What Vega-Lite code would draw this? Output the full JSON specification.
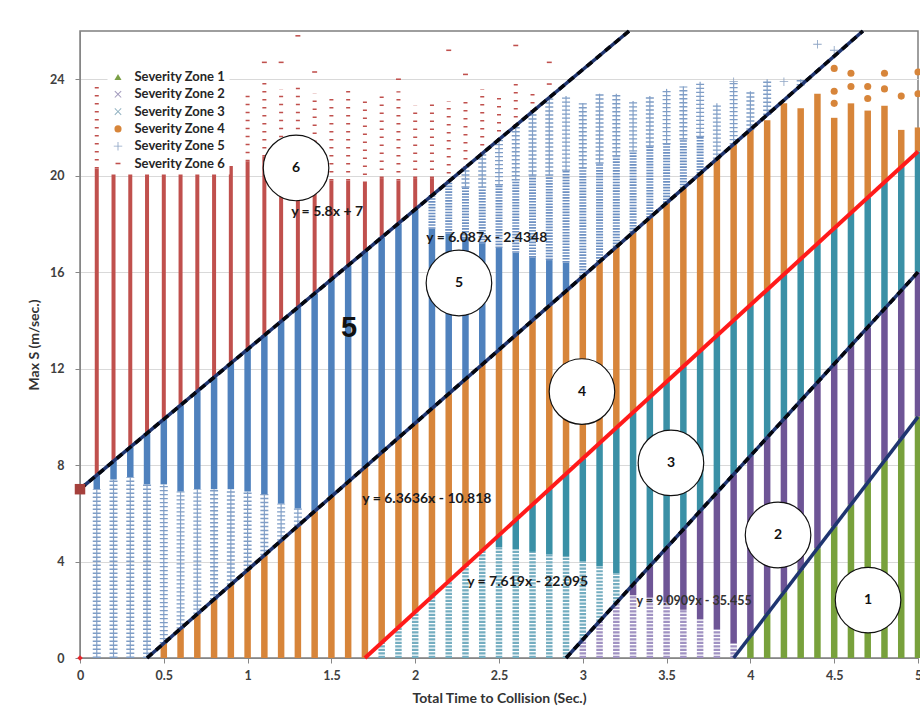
{
  "$schema": "https://vega.github.io/schema/vega-lite/v6.json",
  "width": 838,
  "height": 627,
  "autosize": {"type": "none"},
  "padding": {"left": 80, "top": 31, "right": 2, "bottom": 63},
  "background": "white",
  "config": {
    "font": "Lato",
    "view": {"stroke": "#7f7f7f", "strokeWidth": 1.5},
    "axis": {
      "labelFont": "Lato", "labelFontWeight": "bold", "labelFontSize": 12.5, "labelColor": "#404040",
      "titleFont": "Lato", "titleFontWeight": "bold", "titleFontSize": 14, "titleColor": "#333333",
      "domainColor": "#868686", "tickColor": "#868686", "tickSize": 5, "gridColor": "#d9d9d9"
    }
  },
  "datasets": {
    "dense": [
      {"x":0.1,"zone":6,"lo":7.58,"hi":20.3},{"x":0.2,"zone":6,"lo":8.16,"hi":20.4},{"x":0.3,"zone":6,"lo":8.74,"hi":20.5},
      {"x":0.4,"zone":6,"lo":9.32,"hi":20.5},{"x":0.5,"zone":6,"lo":9.9,"hi":20.4},{"x":0.6,"zone":6,"lo":10.48,"hi":20.5},
      {"x":0.7,"zone":6,"lo":11.06,"hi":20.4},{"x":0.8,"zone":6,"lo":11.64,"hi":20.4},{"x":0.9,"zone":6,"lo":12.22,"hi":20.4},
      {"x":1.0,"zone":6,"lo":12.8,"hi":20.6},{"x":1.1,"zone":6,"lo":13.38,"hi":20.8},{"x":1.2,"zone":6,"lo":13.96,"hi":20.6},
      {"x":1.3,"zone":6,"lo":14.54,"hi":20.6},{"x":1.4,"zone":6,"lo":15.12,"hi":20.4},{"x":1.5,"zone":6,"lo":15.7,"hi":19.8},
      {"x":1.6,"zone":6,"lo":16.28,"hi":19.8},{"x":1.7,"zone":6,"lo":16.86,"hi":19.7},{"x":1.8,"zone":6,"lo":17.44,"hi":19.9},
      {"x":1.9,"zone":6,"lo":18.02,"hi":19.8},{"x":2.0,"zone":6,"lo":18.6,"hi":19.9},{"x":2.1,"zone":6,"lo":19.18,"hi":19.9},

      {"x":0.1,"zone":5,"lo":7.0,"hi":7.58},{"x":0.2,"zone":5,"lo":7.4,"hi":8.16},{"x":0.3,"zone":5,"lo":7.5,"hi":8.74},
      {"x":0.4,"zone":5,"lo":7.2,"hi":9.32},{"x":0.5,"zone":5,"lo":7.2,"hi":9.9},{"x":0.6,"zone":5,"lo":6.9,"hi":10.48},
      {"x":0.7,"zone":5,"lo":7.0,"hi":11.06},{"x":0.8,"zone":5,"lo":7.0,"hi":11.64},{"x":0.9,"zone":5,"lo":7.0,"hi":12.22},
      {"x":1.0,"zone":5,"lo":6.9,"hi":12.8},{"x":1.1,"zone":5,"lo":6.8,"hi":13.38},{"x":1.2,"zone":5,"lo":6.4,"hi":13.96},
      {"x":1.3,"zone":5,"lo":6.2,"hi":14.54},{"x":1.4,"zone":5,"lo":6.09,"hi":15.12},{"x":1.5,"zone":5,"lo":6.7,"hi":15.7},
      {"x":1.6,"zone":5,"lo":7.3,"hi":16.28},{"x":1.7,"zone":5,"lo":7.91,"hi":16.86},{"x":1.8,"zone":5,"lo":8.52,"hi":17.44},
      {"x":1.9,"zone":5,"lo":9.13,"hi":18.02},{"x":2.0,"zone":5,"lo":9.74,"hi":18.6},{"x":2.1,"zone":5,"lo":10.35,"hi":17.8},
      {"x":2.2,"zone":5,"lo":10.96,"hi":17.6},{"x":2.3,"zone":5,"lo":11.57,"hi":17.4},{"x":2.4,"zone":5,"lo":12.17,"hi":17.2},
      {"x":2.5,"zone":5,"lo":12.78,"hi":17.0},{"x":2.6,"zone":5,"lo":13.39,"hi":16.8},{"x":2.7,"zone":5,"lo":14.0,"hi":16.6},
      {"x":2.8,"zone":5,"lo":14.61,"hi":16.5},{"x":2.9,"zone":5,"lo":15.22,"hi":16.4},

      {"x":0.5,"zone":4,"lo":0,"hi":0.61},{"x":0.6,"zone":4,"lo":0,"hi":1.22},{"x":0.7,"zone":4,"lo":0,"hi":1.83},
      {"x":0.8,"zone":4,"lo":0,"hi":2.43},{"x":0.9,"zone":4,"lo":0,"hi":3.04},{"x":1.0,"zone":4,"lo":0,"hi":3.65},
      {"x":1.1,"zone":4,"lo":0,"hi":4.26},{"x":1.2,"zone":4,"lo":0,"hi":4.87},{"x":1.3,"zone":4,"lo":0,"hi":5.48},
      {"x":1.4,"zone":4,"lo":0,"hi":6.09},{"x":1.5,"zone":4,"lo":0,"hi":6.7},{"x":1.6,"zone":4,"lo":0,"hi":7.3},
      {"x":1.7,"zone":4,"lo":0,"hi":7.91},{"x":1.8,"zone":4,"lo":0.64,"hi":8.52},{"x":1.9,"zone":4,"lo":1.27,"hi":9.13},
      {"x":2.0,"zone":4,"lo":1.91,"hi":9.74},{"x":2.1,"zone":4,"lo":2.55,"hi":10.35},{"x":2.2,"zone":4,"lo":3.18,"hi":10.96},
      {"x":2.3,"zone":4,"lo":3.82,"hi":11.57},{"x":2.4,"zone":4,"lo":4.45,"hi":12.17},{"x":2.5,"zone":4,"lo":5.09,"hi":12.78},
      {"x":2.6,"zone":4,"lo":5.73,"hi":13.39},{"x":2.7,"zone":4,"lo":6.36,"hi":14.0},{"x":2.8,"zone":4,"lo":7.0,"hi":14.61},
      {"x":2.9,"zone":4,"lo":7.64,"hi":15.22},{"x":3.0,"zone":4,"lo":8.27,"hi":15.83},{"x":3.1,"zone":4,"lo":8.91,"hi":16.44},
      {"x":3.2,"zone":4,"lo":9.55,"hi":17.04},{"x":3.3,"zone":4,"lo":10.18,"hi":17.65},{"x":3.4,"zone":4,"lo":10.82,"hi":18.26},
      {"x":3.5,"zone":4,"lo":11.45,"hi":18.87},{"x":3.6,"zone":4,"lo":12.09,"hi":19.48},{"x":3.7,"zone":4,"lo":12.73,"hi":20.09},
      {"x":3.8,"zone":4,"lo":13.36,"hi":20.7},{"x":3.9,"zone":4,"lo":14.0,"hi":21.3},{"x":4.0,"zone":4,"lo":14.64,"hi":21.91},
      {"x":4.1,"zone":4,"lo":15.27,"hi":22.3},{"x":4.2,"zone":4,"lo":15.91,"hi":23.0},{"x":4.3,"zone":4,"lo":16.55,"hi":22.8},
      {"x":4.4,"zone":4,"lo":17.18,"hi":23.4},{"x":4.5,"zone":4,"lo":17.82,"hi":22.4},{"x":4.6,"zone":4,"lo":18.46,"hi":23.0},
      {"x":4.7,"zone":4,"lo":19.09,"hi":22.7},{"x":4.8,"zone":4,"lo":19.73,"hi":22.9},{"x":4.9,"zone":4,"lo":20.36,"hi":21.9},
      {"x":5.0,"zone":4,"lo":21.0,"hi":22.0},

      {"x":2.5,"zone":3,"lo":4.6,"hi":5.09},{"x":2.6,"zone":3,"lo":4.5,"hi":5.73},{"x":2.7,"zone":3,"lo":4.4,"hi":6.36},
      {"x":2.8,"zone":3,"lo":4.3,"hi":7.0},{"x":2.9,"zone":3,"lo":4.2,"hi":7.64},{"x":3.0,"zone":3,"lo":4.0,"hi":8.27},
      {"x":3.1,"zone":3,"lo":3.8,"hi":8.91},{"x":3.2,"zone":3,"lo":3.5,"hi":9.55},{"x":3.3,"zone":3,"lo":3.05,"hi":10.18},
      {"x":3.4,"zone":3,"lo":3.81,"hi":10.82},{"x":3.5,"zone":3,"lo":4.57,"hi":11.45},{"x":3.6,"zone":3,"lo":5.33,"hi":12.09},
      {"x":3.7,"zone":3,"lo":6.1,"hi":12.73},{"x":3.8,"zone":3,"lo":6.86,"hi":13.36},{"x":3.9,"zone":3,"lo":7.62,"hi":14.0},
      {"x":4.0,"zone":3,"lo":8.38,"hi":14.64},{"x":4.1,"zone":3,"lo":9.14,"hi":15.27},{"x":4.2,"zone":3,"lo":9.91,"hi":15.91},
      {"x":4.3,"zone":3,"lo":10.67,"hi":16.55},{"x":4.4,"zone":3,"lo":11.43,"hi":17.18},{"x":4.5,"zone":3,"lo":12.19,"hi":17.82},
      {"x":4.6,"zone":3,"lo":12.95,"hi":18.46},{"x":4.7,"zone":3,"lo":13.71,"hi":19.09},{"x":4.8,"zone":3,"lo":14.48,"hi":19.73},
      {"x":4.9,"zone":3,"lo":15.24,"hi":20.36},{"x":5.0,"zone":3,"lo":16.0,"hi":21.0},

      {"x":3.3,"zone":2,"lo":2.6,"hi":3.05},{"x":3.4,"zone":2,"lo":2.5,"hi":3.81},{"x":3.5,"zone":2,"lo":2.3,"hi":4.57},
      {"x":3.6,"zone":2,"lo":2.0,"hi":5.33},{"x":3.7,"zone":2,"lo":1.6,"hi":6.1},{"x":3.8,"zone":2,"lo":1.2,"hi":6.86},
      {"x":3.9,"zone":2,"lo":0.6,"hi":7.62},{"x":4.0,"zone":2,"lo":0.91,"hi":8.38},{"x":4.1,"zone":2,"lo":1.82,"hi":9.14},
      {"x":4.2,"zone":2,"lo":2.73,"hi":9.91},{"x":4.3,"zone":2,"lo":3.64,"hi":10.67},{"x":4.4,"zone":2,"lo":4.55,"hi":11.43},
      {"x":4.5,"zone":2,"lo":5.45,"hi":12.19},{"x":4.6,"zone":2,"lo":6.36,"hi":12.95},{"x":4.7,"zone":2,"lo":7.27,"hi":13.71},
      {"x":4.8,"zone":2,"lo":8.18,"hi":14.48},{"x":4.9,"zone":2,"lo":9.09,"hi":15.24},{"x":5.0,"zone":2,"lo":10.0,"hi":16.0},

      {"x":4.0,"zone":1,"lo":0,"hi":0.91},{"x":4.1,"zone":1,"lo":0,"hi":1.82},{"x":4.2,"zone":1,"lo":0,"hi":2.73},
      {"x":4.3,"zone":1,"lo":0,"hi":3.64},{"x":4.4,"zone":1,"lo":0,"hi":4.55},{"x":4.5,"zone":1,"lo":0,"hi":5.45},
      {"x":4.6,"zone":1,"lo":0,"hi":6.36},{"x":4.7,"zone":1,"lo":0,"hi":7.27},{"x":4.8,"zone":1,"lo":0,"hi":8.18},
      {"x":4.9,"zone":1,"lo":0,"hi":9.09},{"x":5.0,"zone":1,"lo":0,"hi":10.0}
    ],
    "mid": [
      {"x":2.1,"zone":5,"lo":17.8,"hi":19.18},{"x":2.2,"zone":5,"lo":17.6,"hi":19.76},{"x":2.3,"zone":5,"lo":17.4,"hi":19.5},
      {"x":2.4,"zone":5,"lo":17.2,"hi":19.5},{"x":2.5,"zone":5,"lo":17.0,"hi":19.6},{"x":2.6,"zone":5,"lo":16.8,"hi":19.8},
      {"x":2.7,"zone":5,"lo":16.6,"hi":20.0},{"x":2.8,"zone":5,"lo":16.5,"hi":20.0},{"x":2.9,"zone":5,"lo":16.4,"hi":20.2},
      {"x":3.0,"zone":5,"lo":15.83,"hi":20.3},{"x":3.1,"zone":5,"lo":16.44,"hi":20.5},{"x":3.2,"zone":5,"lo":17.04,"hi":20.8},
      {"x":3.3,"zone":5,"lo":17.65,"hi":21.0},{"x":3.4,"zone":5,"lo":18.26,"hi":21.2},{"x":3.5,"zone":5,"lo":18.87,"hi":21.3},
      {"x":3.6,"zone":5,"lo":19.48,"hi":21.5},{"x":3.7,"zone":5,"lo":20.09,"hi":21.6}
    ],
    "sparse": [
      {"x":0.1,"zone":6,"lo":20.3,"hi":23.8},{"x":1.0,"zone":6,"lo":20.6,"hi":23.5},{"x":1.1,"zone":6,"lo":20.8,"hi":24.1},
      {"x":1.2,"zone":6,"lo":20.6,"hi":23.6},{"x":1.3,"zone":6,"lo":20.6,"hi":23.8},{"x":1.4,"zone":6,"lo":20.4,"hi":23.4},
      {"x":1.5,"zone":6,"lo":19.8,"hi":23.3},{"x":1.6,"zone":6,"lo":19.8,"hi":23.7},{"x":1.7,"zone":6,"lo":19.7,"hi":23.3},
      {"x":1.8,"zone":6,"lo":19.9,"hi":23.3},{"x":1.9,"zone":6,"lo":19.8,"hi":23.5},{"x":2.0,"zone":6,"lo":19.9,"hi":22.9},
      {"x":2.1,"zone":6,"lo":19.9,"hi":23.0},{"x":2.2,"zone":6,"lo":19.76,"hi":23.1},{"x":2.3,"zone":6,"lo":20.34,"hi":23.2},
      {"x":2.4,"zone":6,"lo":20.92,"hi":23.6},{"x":2.5,"zone":6,"lo":21.5,"hi":23.3},{"x":2.6,"zone":6,"lo":22.08,"hi":23.8},
      {"x":2.7,"zone":6,"lo":22.66,"hi":23.4},

      {"x":0.1,"zone":5,"lo":0,"hi":7.0},{"x":0.2,"zone":5,"lo":0,"hi":7.4},{"x":0.3,"zone":5,"lo":0,"hi":7.5},
      {"x":0.4,"zone":5,"lo":0,"hi":7.2},{"x":0.5,"zone":5,"lo":0.61,"hi":7.2},{"x":0.6,"zone":5,"lo":1.22,"hi":6.9},
      {"x":0.7,"zone":5,"lo":1.83,"hi":7.0},{"x":0.8,"zone":5,"lo":2.43,"hi":7.0},{"x":0.9,"zone":5,"lo":3.04,"hi":7.0},
      {"x":1.0,"zone":5,"lo":3.65,"hi":6.9},{"x":1.1,"zone":5,"lo":4.26,"hi":6.8},{"x":1.2,"zone":5,"lo":4.87,"hi":6.4},
      {"x":1.3,"zone":5,"lo":5.48,"hi":6.2},
      {"x":2.3,"zone":5,"lo":19.5,"hi":20.34},{"x":2.4,"zone":5,"lo":19.5,"hi":20.92},{"x":2.5,"zone":5,"lo":19.6,"hi":21.5},
      {"x":2.6,"zone":5,"lo":19.8,"hi":22.08},{"x":2.7,"zone":5,"lo":20.0,"hi":22.66},{"x":2.8,"zone":5,"lo":20.0,"hi":23.2},
      {"x":2.9,"zone":5,"lo":20.2,"hi":23.3},{"x":3.0,"zone":5,"lo":20.3,"hi":23.0},{"x":3.1,"zone":5,"lo":20.5,"hi":23.4},
      {"x":3.2,"zone":5,"lo":20.8,"hi":23.4},{"x":3.3,"zone":5,"lo":21.0,"hi":23.1},{"x":3.4,"zone":5,"lo":21.2,"hi":23.3},
      {"x":3.5,"zone":5,"lo":21.3,"hi":23.6},{"x":3.6,"zone":5,"lo":21.5,"hi":23.7},{"x":3.7,"zone":5,"lo":21.6,"hi":23.9},
      {"x":3.8,"zone":5,"lo":20.7,"hi":23.0},{"x":3.9,"zone":5,"lo":21.3,"hi":23.9},{"x":4.0,"zone":5,"lo":21.91,"hi":23.5},
      {"x":4.1,"zone":5,"lo":22.52,"hi":24.0},{"x":4.3,"zone":5,"lo":23.74,"hi":24.0},

      {"x":1.8,"zone":3,"lo":0,"hi":0.64},{"x":1.9,"zone":3,"lo":0,"hi":1.27},{"x":2.0,"zone":3,"lo":0,"hi":1.91},
      {"x":2.1,"zone":3,"lo":0,"hi":2.55},{"x":2.2,"zone":3,"lo":0,"hi":3.18},{"x":2.3,"zone":3,"lo":0,"hi":3.82},
      {"x":2.4,"zone":3,"lo":0,"hi":4.45},{"x":2.5,"zone":3,"lo":0,"hi":4.6},{"x":2.6,"zone":3,"lo":0,"hi":4.5},
      {"x":2.7,"zone":3,"lo":0,"hi":4.4},{"x":2.8,"zone":3,"lo":0,"hi":4.3},{"x":2.9,"zone":3,"lo":0,"hi":4.2},
      {"x":3.0,"zone":3,"lo":0.76,"hi":4.0},{"x":3.1,"zone":3,"lo":1.52,"hi":3.8},{"x":3.2,"zone":3,"lo":2.29,"hi":3.5},

      {"x":3.0,"zone":2,"lo":0,"hi":0.76},{"x":3.1,"zone":2,"lo":0,"hi":1.52},{"x":3.2,"zone":2,"lo":0,"hi":2.29},
      {"x":3.3,"zone":2,"lo":0,"hi":2.6},{"x":3.4,"zone":2,"lo":0,"hi":2.5},{"x":3.5,"zone":2,"lo":0,"hi":2.3},
      {"x":3.6,"zone":2,"lo":0,"hi":2.0},{"x":3.7,"zone":2,"lo":0,"hi":1.6},{"x":3.8,"zone":2,"lo":0,"hi":1.2},
      {"x":3.9,"zone":2,"lo":0,"hi":0.6}
    ],
    "outliers": [
      {"x":1.1,"y":24.7,"zone":6},{"x":1.2,"y":24.7,"zone":6},{"x":1.3,"y":25.8,"zone":6},{"x":1.4,"y":24.3,"zone":6},
      {"x":1.9,"y":24.0,"zone":6},{"x":2.2,"y":25.2,"zone":6},{"x":2.3,"y":24.2,"zone":6},{"x":2.6,"y":25.4,"zone":6},
      {"x":2.8,"y":24.7,"zone":6},{"x":2.8,"y":23.8,"zone":6},
      {"x":3.9,"y":23.9,"zone":5},{"x":4.2,"y":23.9,"zone":5},{"x":4.4,"y":25.45,"zone":5},{"x":4.5,"y":25.2,"zone":5},
      {"x":4.5,"y":24.45,"zone":4},{"x":4.5,"y":23.5,"zone":4},{"x":4.5,"y":23.0,"zone":4},{"x":4.6,"y":24.25,"zone":4},
      {"x":4.6,"y":23.7,"zone":4},{"x":4.7,"y":23.7,"zone":4},{"x":4.7,"y":23.2,"zone":4},{"x":4.8,"y":24.25,"zone":4},
      {"x":4.8,"y":23.6,"zone":4},{"x":4.9,"y":23.3,"zone":4},{"x":5.0,"y":24.3,"zone":4},{"x":5.0,"y":23.4,"zone":4}
    ],
    "lines": [
      {"line":1,"x":0,"y":7},{"line":1,"x":3.2759,"y":26},
      {"line":2,"x":0.4,"y":0},{"line":2,"x":4.6714,"y":26},
      {"line":3,"x":1.7,"y":0},{"line":3,"x":5,"y":21},
      {"line":4,"x":2.9,"y":0},{"line":4,"x":5,"y":16},
      {"line":5,"x":3.9,"y":0},{"line":5,"x":5,"y":10}
    ],
    "equations": [
      {"x":1.26,"y":18.49,"label":"y = 5.8x + 7"},
      {"x":2.066,"y":17.41,"label":"y = 6.087x - 2.4348"},
      {"x":1.684,"y":6.59,"label":"y = 6.3636x - 10.818"},
      {"x":2.31,"y":3.15,"label":"y = 7.619x - 22.095"},
      {"x":3.32,"y":2.36,"label":"y = 9.0909x - 35.455"}
    ],
    "circles": [
      {"x":1.289,"y":20.32,"n":"6"},{"x":2.261,"y":15.55,"n":"5"},{"x":2.995,"y":11.05,"n":"4"},
      {"x":3.526,"y":8.09,"n":"3"},{"x":4.165,"y":5.1,"n":"2"},{"x":4.702,"y":2.4,"n":"1"}
    ]
  },
  "encoding": {
    "x": {
      "field": "x", "type": "quantitative",
      "scale": {"domain": [0, 5], "nice": false, "zero": false},
      "axis": {"title": "Total Time to Collision (Sec.)", "values": [0,0.5,1,1.5,2,2.5,3,3.5,4,4.5,5], "format": "~g", "grid": false, "labelFlush": false, "labelPadding": 6, "titlePadding": 10}
    }
  },
  "layer": [
    {
      "data": {"name": "dense"},
      "transform": [{"filter": "datum.zone < 6"}],
      "mark": {"type": "rule", "strokeWidth": 6.5},
      "encoding": {
        "y": {"field": "lo", "type": "quantitative", "scale": {"domain": [0, 26], "nice": false, "zero": false},
              "axis": {"title": "Max S (m/sec.)", "values": [0,4,8,12,16,20,24], "format": "d", "grid": true, "labelPadding": 11, "titlePadding": 8}},
        "y2": {"field": "hi"},
        "stroke": {"field": "zone", "type": "nominal", "legend": null,
                   "scale": {"domain": [1,2,3,4,5], "range": ["#78a13c","#6e5596","#3a90a6","#d7853a","#4f81bd"]}}
      }
    },
    {
      "data": {"name": "dense"},
      "transform": [{"filter": "datum.zone == 6"}],
      "mark": {"type": "rule", "strokeWidth": 4, "color": "#c0504d"},
      "encoding": {"y": {"field": "lo", "type": "quantitative", "scale": {"domain": [0, 26]}}, "y2": {"field": "hi"}}
    },
    {
      "data": {"name": "sparse"},
      "transform": [{"filter": "datum.zone == 2 || datum.zone == 3"}],
      "mark": {"type": "rule", "strokeWidth": 6.5, "strokeDash": [2.2, 1.3]},
      "encoding": {
        "y": {"field": "lo", "type": "quantitative", "scale": {"domain": [0, 26]}}, "y2": {"field": "hi"},
        "color": {"field": "zone", "type": "nominal", "legend": null, "scale": {"domain": [2,3], "range": ["#a092c2","#74adc0"]}}
      }
    },
    {
      "data": {"name": "sparse"},
      "transform": [{"filter": "datum.zone == 5"}],
      "mark": {"type": "rule", "strokeWidth": 1.2, "color": "#86a2c8"},
      "encoding": {"y": {"field": "lo", "type": "quantitative", "scale": {"domain": [0, 26]}}, "y2": {"field": "hi"}}
    },
    {
      "data": {"name": "sparse"},
      "transform": [{"filter": "datum.zone == 5"}],
      "mark": {"type": "rule", "strokeWidth": 8, "strokeDash": [1.4, 2.6], "color": "#7f9dc6"},
      "encoding": {"y": {"field": "lo", "type": "quantitative", "scale": {"domain": [0, 26]}}, "y2": {"field": "hi"}}
    },
    {
      "data": {"name": "mid"},
      "mark": {"type": "rule", "strokeWidth": 7, "strokeDash": [1.6, 1.3], "color": "#6d90c2"},
      "encoding": {"y": {"field": "lo", "type": "quantitative", "scale": {"domain": [0, 26]}}, "y2": {"field": "hi"}}
    },
    {
      "data": {"name": "sparse"},
      "transform": [{"filter": "datum.zone == 6"}],
      "mark": {"type": "rule", "strokeWidth": 4, "strokeDash": [1.5, 6.5], "color": "#c0504d"},
      "encoding": {"y": {"field": "lo", "type": "quantitative", "scale": {"domain": [0, 26]}}, "y2": {"field": "hi"}}
    },
    {
      "data": {"name": "outliers"},
      "mark": {"type": "point", "filled": true, "size": 50, "opacity": 1, "strokeWidth": 0},
      "encoding": {
        "y": {"field": "y", "type": "quantitative", "scale": {"domain": [0, 26]}},
        "fill": {"field": "zone", "type": "nominal",
                 "scale": {"domain": [1,2,3,4,5,6], "range": ["#7a9f45","#a39bbd","#93b3c2","#d7853a","#8ea5c5","#c0504d"]},
                 "legend": {"orient": "none", "legendX": 27.5, "legendY": 35.5, "title": null, "padding": 4, "fillColor": "#ffffff",
                            "labelExpr": "'Severity Zone ' + datum.label", "labelFont": "Lato", "labelFontWeight": "bold",
                            "labelFontSize": 13, "labelColor": "#262626", "symbolSize": 50, "symbolStrokeWidth": 0,
                            "rowPadding": 3.3, "labelOffset": 10}},
        "shape": {"field": "zone", "type": "nominal",
                  "scale": {"domain": [1,2,3,4,5,6], "range": [
                    "triangle-up",
                    "M0,-0.2L0.8,-1L1,-0.8L0.2,0L1,0.8L0.8,1L0,0.2L-0.8,1L-1,0.8L-0.2,0L-1,-0.8L-0.8,-1Z",
                    "M0,-0.2L0.8,-1L1,-0.8L0.2,0L1,0.8L0.8,1L0,0.2L-0.8,1L-1,0.8L-0.2,0L-1,-0.8L-0.8,-1Z",
                    "circle",
                    "M-0.12,-1.2L0.12,-1.2L0.12,-0.12L1.2,-0.12L1.2,0.12L0.12,0.12L0.12,1.2L-0.12,1.2L-0.12,0.12L-1.2,0.12L-1.2,-0.12L-0.12,-0.12Z",
                    "M-0.7,-0.22L0.7,-0.22L0.7,0.22L-0.7,0.22Z"]},
                  "legend": {"orient": "none", "legendX": 27.5, "legendY": 35.5, "title": null}}
      }
    },
    {
      "data": {"name": "lines"},
      "transform": [{"filter": "datum.line != 3"}],
      "mark": {"type": "line", "strokeWidth": 3.5, "color": "#1f3570"},
      "encoding": {"y": {"field": "y", "type": "quantitative", "scale": {"domain": [0, 26]}}, "detail": {"field": "line", "type": "nominal"}}
    },
    {
      "data": {"name": "lines"},
      "transform": [{"filter": "datum.line == 1 || datum.line == 2 || datum.line == 4"}],
      "mark": {"type": "line", "strokeWidth": 3.5, "strokeDash": [7, 5], "color": "#05070f"},
      "encoding": {"y": {"field": "y", "type": "quantitative", "scale": {"domain": [0, 26]}}, "detail": {"field": "line", "type": "nominal"}}
    },
    {
      "data": {"name": "lines"},
      "transform": [{"filter": "datum.line == 3"}],
      "mark": {"type": "line", "strokeWidth": 4, "color": "#ff1a1a"},
      "encoding": {"y": {"field": "y", "type": "quantitative", "scale": {"domain": [0, 26]}}}
    },
    {
      "data": {"values": [{"x": 0, "y": 7}]},
      "mark": {"type": "point", "shape": "square", "filled": true, "size": 110, "opacity": 1, "color": "#a5403c"},
      "encoding": {"y": {"field": "y", "type": "quantitative", "scale": {"domain": [0, 26]}}}
    },
    {
      "data": {"values": [{"x": 0, "y": 0}]},
      "mark": {"type": "point", "shape": "diamond", "filled": true, "size": 30, "opacity": 1, "color": "#e8262b"},
      "encoding": {"y": {"field": "y", "type": "quantitative", "scale": {"domain": [0, 26]}}}
    },
    {
      "data": {"name": "circles"},
      "mark": {"type": "point", "shape": "circle", "size": 4300, "filled": true, "fill": "#ffffff", "stroke": "#111111", "strokeWidth": 1.2, "opacity": 1},
      "encoding": {"y": {"field": "y", "type": "quantitative", "scale": {"domain": [0, 26]}}}
    },
    {
      "data": {"name": "circles"},
      "mark": {"type": "text", "font": "Lato", "fontWeight": "bold", "fontSize": 14, "color": "#111111", "align": "center", "baseline": "middle"},
      "encoding": {"y": {"field": "y", "type": "quantitative", "scale": {"domain": [0, 26]}}, "text": {"field": "n"}}
    },
    {
      "data": {"name": "equations"},
      "transform": [{"filter": "datum.label != 'y = 9.0909x - 35.455'"}],
      "mark": {"type": "text", "font": "Lato", "fontWeight": "bold", "fontSize": 14, "color": "#1a1a1a", "align": "left", "baseline": "middle"},
      "encoding": {"y": {"field": "y", "type": "quantitative", "scale": {"domain": [0, 26]}}, "text": {"field": "label"}}
    },
    {
      "data": {"name": "equations"},
      "transform": [{"filter": "datum.label == 'y = 9.0909x - 35.455'"}],
      "mark": {"type": "text", "font": "Lato", "fontWeight": "bold", "fontSize": 12.5, "color": "#333333", "align": "left", "baseline": "middle"},
      "encoding": {"y": {"field": "y", "type": "quantitative", "scale": {"domain": [0, 26]}}, "text": {"field": "label"}}
    },
    {
      "data": {"values": [{"x": 1.605, "y": 13.68, "label": "5"}]},
      "mark": {"type": "text", "font": "Liberation Sans", "fontWeight": "bold", "fontSize": 29, "color": "#111111", "align": "center", "baseline": "middle"},
      "encoding": {"y": {"field": "y", "type": "quantitative", "scale": {"domain": [0, 26]}}, "text": {"field": "label"}}
    }
  ]
}
